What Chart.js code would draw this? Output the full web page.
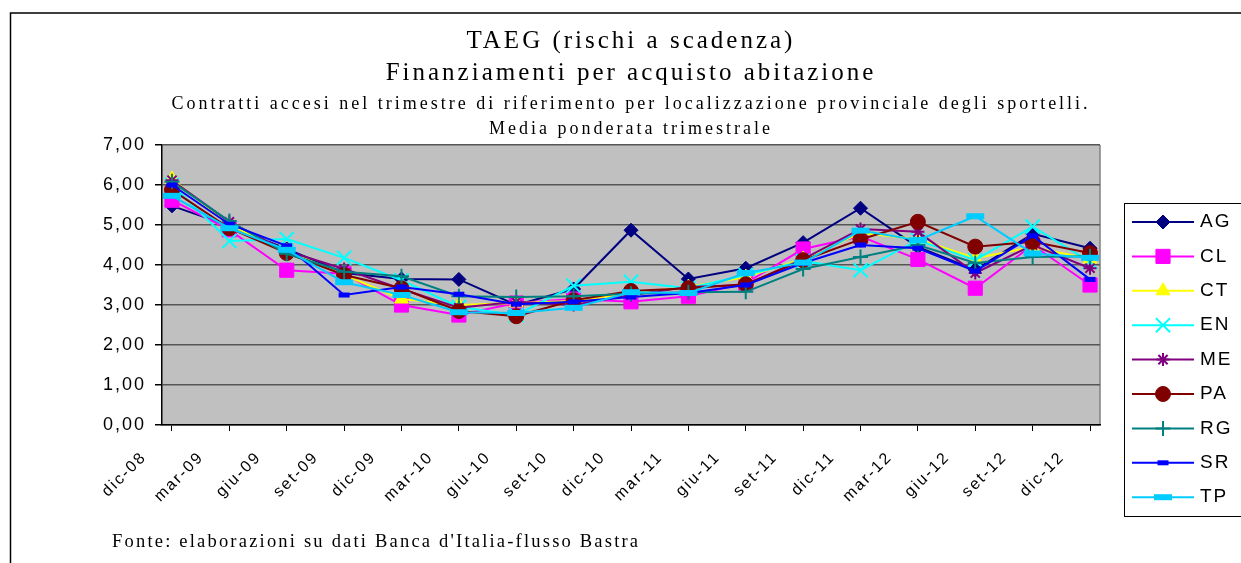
<!DOCTYPE html>
<html lang="it">
<head>
<meta charset="utf-8">
<title>TAEG (rischi a scadenza)</title>
<script src="https://cdn.jsdelivr.net/npm/chart.js"></script>
<style>
    html, body { margin: 0; padding: 0; background: #fff; }
    #wrap { width: 1241px; height: 563px; }
</style>
</head>
<body>
<div id="wrap"><canvas id="taeg-chart" width="1241" height="563"></canvas></div>
<script>
// Trimestri di riferimento
const trimestri = ['dic-08', 'mar-09', 'giu-09', 'set-09', 'dic-09', 'mar-10', 'giu-10', 'set-10', 'dic-10',
                   'mar-11', 'giu-11', 'set-11', 'dic-11', 'mar-12', 'giu-12', 'set-12', 'dic-12'];

// Etichette asse y
const etichetteY = ['0,00', '1,00', '2,00', '3,00', '4,00', '5,00', '6,00', '7,00'];

// Province
const province = ['AG', 'CL', 'CT', 'EN', 'ME', 'PA', 'RG', 'SR', 'TP'];

// TAEG per provincia
const valoriAG = [5.48, 4.98, 4.40, 3.80, 3.65, 3.64, 3.00, 3.40, 4.87, 3.65, 3.92, 4.56, 5.42, 4.45, 3.88, 4.78, 4.42];
const valoriCL = [5.62, 4.88, 3.87, 3.78, 3.00, 2.75, 3.05, 3.15, 3.08, 3.22, 3.55, 4.40, 4.72, 4.14, 3.42, 4.50, 3.50];
const valoriCT = [6.15, 5.00, 4.35, 3.75, 3.15, 3.00, 3.05, 3.10, 3.30, 3.45, 3.70, 4.15, 4.80, 4.65, 4.17, 4.45, 4.15];
const valoriEN = [6.00, 4.60, 4.65, 4.18, 3.62, 2.95, 2.75, 3.48, 3.58, 3.42, 3.75, 4.10, 3.87, 4.62, 4.12, 4.96, 4.08];
const valoriME = [6.12, 5.08, 4.35, 3.90, 3.40, 2.93, 3.08, 3.00, 3.25, 3.45, 3.50, 4.15, 4.90, 4.83, 3.80, 4.50, 3.92];
const valoriPA = [5.88, 4.92, 4.30, 3.75, 3.42, 2.85, 2.72, 3.12, 3.35, 3.42, 3.52, 4.12, 4.64, 5.08, 4.46, 4.58, 4.30];
const valoriRG = [6.08, 5.10, 4.28, 3.83, 3.72, 3.22, 3.20, 3.22, 3.28, 3.32, 3.33, 3.90, 4.20, 4.50, 4.05, 4.20, 4.22];
const valoriSR = [6.00, 5.02, 4.48, 3.25, 3.45, 3.27, 3.02, 3.08, 3.20, 3.30, 3.50, 4.05, 4.50, 4.42, 3.85, 4.73, 3.64];
const valoriTP = [5.73, 4.92, 4.38, 3.57, 3.25, 2.82, 2.80, 2.93, 3.32, 3.30, 3.80, 4.06, 4.86, 4.62, 5.22, 4.29, 4.18];

const serie = [valoriAG, valoriCL, valoriCT, valoriEN, valoriME, valoriPA, valoriRG, valoriSR, valoriTP];

// Stile delle serie (colori e marcatori tipo Excel)
const stili = {
    AG: { colore: '#000080', punto: 'rectRot', raggio: 7, bordo: 1 },
    CL: { colore: '#FF00FF', punto: 'rect', raggio: 10, bordo: 1 },
    CT: { colore: '#FFFF00', punto: 'triangle', raggio: 8, bordo: 1 },
    EN: { colore: '#00FFFF', punto: 'crossRot', raggio: 10, bordo: 2 },
    ME: { colore: '#800080', punto: 'star', raggio: 6.5, bordo: 2 },
    PA: { colore: '#800000', punto: 'circle', raggio: 7.5, bordo: 1 },
    RG: { colore: '#008080', punto: 'cross', raggio: 7.5, bordo: 2 },
    SR: { colore: '#0000FF', punto: 'line', raggio: 5.5, bordo: 5 },
    TP: { colore: '#00CCFF', punto: 'line', raggio: 9, bordo: 6 }
};

const fonte = "Fonte: elaborazioni su dati Banca d'Italia-flusso Bastra";

// Sfondo area, cornice, legenda e nota in basso
const cornicePlugin = {
    id: 'cornice',
    beforeDraw(chart) {
        const ctx = chart.ctx;
        const a = chart.chartArea;
        ctx.save();
        ctx.fillStyle = '#C0C0C0';
        ctx.fillRect(a.left, a.top, a.right - a.left, a.bottom - a.top);
        ctx.strokeStyle = '#808080';
        ctx.lineWidth = 1.5;
        ctx.beginPath();
        ctx.moveTo(a.right, a.top);
        ctx.lineTo(a.right, a.bottom);
        ctx.stroke();
        ctx.strokeStyle = '#000';
        ctx.lineWidth = 1.5;
        ctx.strokeRect(10.5, 13, chart.width + 20, chart.height + 20);
        ctx.restore();
        ctx.letterSpacing = '3px';   // titoli
    },
    beforeDatasetsDraw(chart) {
        chart.ctx.letterSpacing = '2px';   // etichette degli assi (z: 1)
    },
    afterDraw(chart) {
        const ctx = chart.ctx;
        const drawPoint = Chart.helpers && Chart.helpers.drawPoint;

        // legenda
        ctx.save();
        ctx.letterSpacing = '0px';
        ctx.strokeStyle = '#000';
        ctx.lineWidth = 1;
        ctx.strokeRect(1124.5, 203.5, 200, 313);
        chart.data.datasets.forEach((ds, k) => {
            const s = stili[ds.label];
            const y = 222 + k * 34.4;
            ctx.strokeStyle = s.colore;
            ctx.fillStyle = s.colore;
            ctx.lineWidth = 2;
            ctx.beginPath();
            ctx.moveTo(1132, y);
            ctx.lineTo(1194, y);
            ctx.stroke();
            if (drawPoint) {
                ctx.lineWidth = s.bordo;
                drawPoint(ctx, { pointStyle: s.punto, radius: s.raggio, rotation: 0, borderWidth: s.bordo }, 1163, y);
            }
            ctx.letterSpacing = '2px';
            ctx.fillStyle = '#000';
            ctx.font = '19px "Liberation Sans", Arial, sans-serif';
            ctx.textAlign = 'left';
            ctx.textBaseline = 'middle';
            ctx.fillText(ds.label, 1200, y);
            ctx.letterSpacing = '0px';
        });

        // fonte
        ctx.letterSpacing = '2.2px';
        ctx.fillStyle = '#000';
        ctx.font = '18.5px "Liberation Serif", "Times New Roman", serif';
        ctx.textAlign = 'left';
        ctx.textBaseline = 'alphabetic';
        ctx.fillText(fonte, 112, 547);
        ctx.restore();
        ctx.letterSpacing = '0px';
    }
};

const datasets = province.map((sigla, k) => {
    const s = stili[sigla];
    return {
        label: sigla,
        data: serie[k].map((v, i) => ({ x: i, y: v })),
        borderColor: s.colore,
        backgroundColor: s.colore,
        borderWidth: 2,
        pointStyle: s.punto,
        pointRadius: s.raggio,
        pointBorderWidth: s.bordo,
        pointBackgroundColor: s.colore,
        pointBorderColor: s.colore,
        tension: 0,
        fill: false,
        order: province.length - k
    };
});

new Chart(document.getElementById('taeg-chart'), {
    type: 'line',
    data: { datasets: datasets },
    plugins: [cornicePlugin],
    options: {
        responsive: false,
        animation: false,
        events: [],
        layout: { padding: { left: 102, right: 141, top: 0, bottom: 38 } },
        plugins: {
            legend: { display: false },
            tooltip: { enabled: false },
            title: {
                display: true,
                fullSize: false,
                text: ['TAEG (rischi a scadenza)', 'Finanziamenti per acquisto abitazione'],
                color: '#000',
                font: { family: '"Liberation Serif", "Times New Roman", serif', size: 25, weight: 'normal', lineHeight: 1.28 },
                padding: { top: 25, bottom: 0 }
            },
            subtitle: {
                display: true,
                fullSize: false,
                text: ['Contratti accesi nel trimestre di riferimento per localizzazione provinciale degli sportelli.',
                       'Media ponderata trimestrale'],
                color: '#000',
                font: { family: '"Liberation Serif", "Times New Roman", serif', size: 18, weight: 'normal', lineHeight: 1.39 },
                padding: { top: 2.5, bottom: 3.5 }
            }
        },
        scales: {
            x: {
                type: 'linear',
                min: -0.174,
                max: 16.174,
                afterBuildTicks: function(scale) {
                    scale.ticks = trimestri.map((t, i) => ({ value: i }));
                },
                afterFit: function(scale) { scale.height = 100; },
                grid: { drawOnChartArea: false, drawTicks: true, tickLength: 6, tickColor: '#000' },
                border: { color: '#000', width: 1.5 },
                ticks: {
                    z: 1,
                    autoSkip: false,
                    minRotation: 45,
                    maxRotation: 45,
                    labelOffset: -28,
                    padding: 17,
                    color: '#000',
                    font: { family: '"Liberation Sans", Arial, sans-serif', size: 16 },
                    callback: function(value) { return trimestri[value]; }
                }
            },
            y: {
                min: 0,
                max: 7,
                afterFit: function(scale) { scale.width = 60; },
                grid: { color: '#555', lineWidth: 1.5, tickLength: 7, tickColor: '#000' },
                border: { color: '#000', width: 1.5 },
                ticks: {
                    z: 1,
                    stepSize: 1,
                    padding: 9,
                    color: '#000',
                    font: { family: '"Liberation Sans", Arial, sans-serif', size: 18 },
                    callback: function(value) { return etichetteY[value]; }
                }
            }
        }
    }
});
</script>
</body>
</html>
